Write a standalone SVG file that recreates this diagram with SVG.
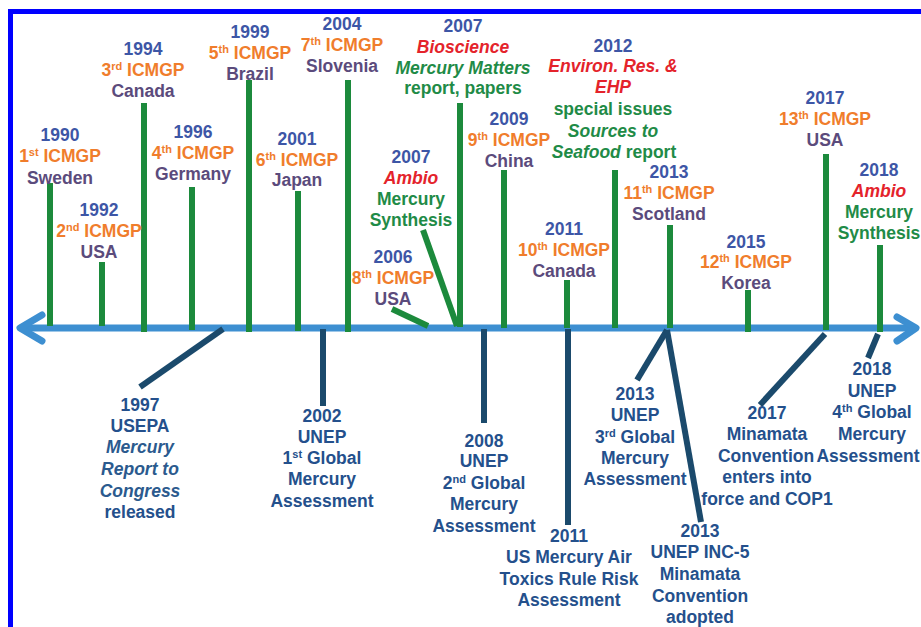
<svg xmlns="http://www.w3.org/2000/svg" width="921" height="627" viewBox="0 0 921 627">
<style>
text{font-family:"Liberation Sans",Arial,sans-serif;font-weight:bold;font-size:17.5px;text-anchor:middle}
.y{fill:#3d56a6}.o{fill:#f07d2c}.c{fill:#5b4b7c}.g{fill:#1f8b47}.r{fill:#e4232b;font-style:italic}
.i{font-style:italic}.b{fill:#24508c}.bi{fill:#2b5a8e;font-style:italic}
.sup{font-size:11px}
.stem{stroke:#1c8a3c;stroke-width:6;fill:none}
.dk{stroke:#1b4a6c;stroke-width:6;fill:none}
.axis{stroke:#3d8fd1;stroke-width:7;fill:none}
</style>
<rect width="921" height="627" fill="#fff"/>
<path d="M10.5 627V11.5H921" fill="none" stroke="#0000ff" stroke-width="5"/>
<g id="axis">
<line class="axis" x1="22" y1="328" x2="915" y2="328"/>
<polyline class="axis" points="42,315 20,328 42,341" stroke-linecap="round" stroke-linejoin="round"/>
<polyline class="axis" points="897,317 916,328 897,341" stroke-linecap="round" stroke-linejoin="round"/>
</g>
<g id="connectors">
<line class="stem" x1="50" y1="183" x2="50" y2="326"/>
<line class="stem" x1="102" y1="262" x2="102" y2="326"/>
<line class="stem" x1="144" y1="103" x2="144" y2="332"/>
<line class="stem" x1="192" y1="187" x2="192" y2="330"/>
<line class="stem" x1="249" y1="80" x2="249" y2="332"/>
<line class="stem" x1="298" y1="191" x2="298" y2="331"/>
<line class="stem" x1="348" y1="80" x2="348" y2="332"/>
<line class="stem" x1="392" y1="309" x2="428" y2="326"/>
<line class="stem" x1="423" y1="230" x2="457" y2="326"/>
<line class="stem" x1="460" y1="103" x2="460" y2="327"/>
<line class="stem" x1="504" y1="170" x2="504" y2="328"/>
<line class="stem" x1="567" y1="280" x2="567" y2="328"/>
<line class="stem" x1="615" y1="170" x2="615" y2="328"/>
<line class="stem" x1="670" y1="225" x2="670" y2="328"/>
<line class="stem" x1="748" y1="290" x2="748" y2="332"/>
<line class="stem" x1="826" y1="154" x2="826" y2="330"/>
<line class="stem" x1="880" y1="245" x2="880" y2="332"/>
<line class="dk" x1="223" y1="329" x2="140" y2="387"/>
<line class="dk" x1="323" y1="329" x2="323" y2="406"/>
<line class="dk" x1="484" y1="329" x2="484" y2="423"/>
<line class="dk" x1="568" y1="329" x2="568" y2="525"/>
<line class="dk" x1="667" y1="330" x2="637" y2="380"/>
<line class="dk" x1="667" y1="330" x2="701" y2="522"/>
<line class="dk" x1="825" y1="334" x2="760" y2="405"/>
<line class="dk" x1="878" y1="334" x2="868" y2="358"/>
</g>
<g id="n1990"><text x="60" y="141" class="y">1990</text><text x="60" y="162" class="o">1<tspan class="sup" dy="-6">st</tspan><tspan dy="6"> ICMGP</tspan></text><text x="60" y="184" class="c">Sweden</text></g>
<g id="n1992"><text x="99" y="216" class="y">1992</text><text x="99" y="237" class="o">2<tspan class="sup" dy="-6">nd</tspan><tspan dy="6"> ICMGP</tspan></text><text x="99" y="258" class="c">USA</text></g>
<g id="n1994"><text x="143" y="55" class="y">1994</text><text x="143" y="76" class="o">3<tspan class="sup" dy="-6">rd</tspan><tspan dy="6"> ICMGP</tspan></text><text x="143" y="97" class="c">Canada</text></g>
<g id="n1996"><text x="193" y="138" class="y">1996</text><text x="193" y="159" class="o">4<tspan class="sup" dy="-6">th</tspan><tspan dy="6"> ICMGP</tspan></text><text x="193" y="180" class="c">Germany</text></g>
<g id="n1999"><text x="250" y="38" class="y">1999</text><text x="250" y="59" class="o">5<tspan class="sup" dy="-6">th</tspan><tspan dy="6"> ICMGP</tspan></text><text x="250" y="80" class="c">Brazil</text></g>
<g id="n2001"><text x="297" y="145" class="y">2001</text><text x="297" y="166" class="o">6<tspan class="sup" dy="-6">th</tspan><tspan dy="6"> ICMGP</tspan></text><text x="297" y="186" class="c">Japan</text></g>
<g id="n2004"><text x="342" y="30" class="y">2004</text><text x="342" y="51" class="o">7<tspan class="sup" dy="-6">th</tspan><tspan dy="6"> ICMGP</tspan></text><text x="342" y="72" class="c">Slovenia</text></g>
<g id="n2006"><text x="393" y="263" class="y">2006</text><text x="393" y="284" class="o">8<tspan class="sup" dy="-6">th</tspan><tspan dy="6"> ICMGP</tspan></text><text x="393" y="305" class="c">USA</text></g>
<g id="n2007a"><text x="411" y="163" class="y">2007</text><text x="411" y="184" class="r">Ambio</text><text x="411" y="205" class="g">Mercury</text><text x="411" y="226" class="g">Synthesis</text></g>
<g id="n2007b"><text x="463" y="32" class="y">2007</text><text x="463" y="53" class="r">Bioscience</text><text x="463" y="74" class="g i">Mercury Matters</text><text x="463" y="94" class="g">report, papers</text></g>
<g id="n2009"><text x="509" y="125" class="y">2009</text><text x="509" y="146" class="o">9<tspan class="sup" dy="-6">th</tspan><tspan dy="6"> ICMGP</tspan></text><text x="509" y="167" class="c">China</text></g>
<g id="n2011a"><text x="564" y="235" class="y">2011</text><text x="564" y="256" class="o">10<tspan class="sup" dy="-6">th</tspan><tspan dy="6"> ICMGP</tspan></text><text x="564" y="277" class="c">Canada</text></g>
<g id="n2012"><text x="613" y="52" class="y">2012</text><text x="613" y="72" class="r">Environ. Res. &amp;</text><text x="613" y="93" class="r">EHP</text><text x="613" y="115" class="g">special issues</text><text x="613" y="137" class="g i">Sources to</text><text x="614" y="158" class="g"><tspan class="i">Seafood</tspan> report</text></g>
<g id="n2013a"><text x="669" y="178" class="y">2013</text><text x="669" y="199" class="o">11<tspan class="sup" dy="-6">th</tspan><tspan dy="6"> ICMGP</tspan></text><text x="669" y="220" class="c">Scotland</text></g>
<g id="n2015"><text x="746" y="248" class="y">2015</text><text x="746" y="268" class="o">12<tspan class="sup" dy="-6">th</tspan><tspan dy="6"> ICMGP</tspan></text><text x="746" y="289" class="c">Korea</text></g>
<g id="n2017a"><text x="825" y="104" class="y">2017</text><text x="825" y="125" class="o">13<tspan class="sup" dy="-6">th</tspan><tspan dy="6"> ICMGP</tspan></text><text x="825" y="146" class="c">USA</text></g>
<g id="n2018a"><text x="879" y="176" class="y">2018</text><text x="879" y="197" class="r">Ambio</text><text x="879" y="218" class="g">Mercury</text><text x="879" y="239" class="g">Synthesis</text></g>
<g id="n1997"><text x="140" y="411" class="b">1997</text><text x="140" y="432" class="b">USEPA</text><text x="140" y="453" class="bi">Mercury</text><text x="140" y="475" class="bi">Report to</text><text x="140" y="497" class="bi">Congress</text><text x="140" y="518" class="b">released</text></g>
<g id="n2002"><text x="322" y="422" class="b">2002</text><text x="322" y="443" class="b">UNEP</text><text x="322" y="464" class="b">1<tspan class="sup" dy="-6">st</tspan><tspan dy="6"> Global</tspan></text><text x="322" y="485" class="b">Mercury</text><text x="322" y="507" class="b">Assessment</text></g>
<g id="n2008"><text x="484" y="447" class="b">2008</text><text x="484" y="467" class="b">UNEP</text><text x="484" y="489" class="b">2<tspan class="sup" dy="-6">nd</tspan><tspan dy="6"> Global</tspan></text><text x="484" y="510" class="b">Mercury</text><text x="484" y="532" class="b">Assessment</text></g>
<g id="n2011b"><text x="569" y="542" class="b">2011</text><text x="569" y="563" class="b">US Mercury Air</text><text x="569" y="585" class="b">Toxics Rule Risk</text><text x="569" y="606" class="b">Assessment</text></g>
<g id="n2013b"><text x="635" y="400" class="b">2013</text><text x="635" y="421" class="b">UNEP</text><text x="635" y="443" class="b">3<tspan class="sup" dy="-6">rd</tspan><tspan dy="6"> Global</tspan></text><text x="635" y="464" class="b">Mercury</text><text x="635" y="485" class="b">Assessment</text></g>
<g id="n2013c"><text x="700" y="537" class="b">2013</text><text x="700" y="558" class="b">UNEP INC-5</text><text x="700" y="580" class="b">Minamata</text><text x="700" y="602" class="b">Convention</text><text x="700" y="623" class="b">adopted</text></g>
<g id="n2017b"><text x="767" y="419" class="b">2017</text><text x="767" y="440" class="b">Minamata</text><text x="766" y="462" class="b">Convention</text><text x="767" y="483" class="b">enters into</text><text x="767" y="505" class="b">force and COP1</text></g>
<g id="n2018b"><text x="872" y="375" class="b">2018</text><text x="872" y="397" class="b">UNEP</text><text x="872" y="418" class="b">4<tspan class="sup" dy="-6">th</tspan><tspan dy="6"> Global</tspan></text><text x="872" y="440" class="b">Mercury</text><text x="868" y="462" class="b">Assessment</text></g>
</svg>
